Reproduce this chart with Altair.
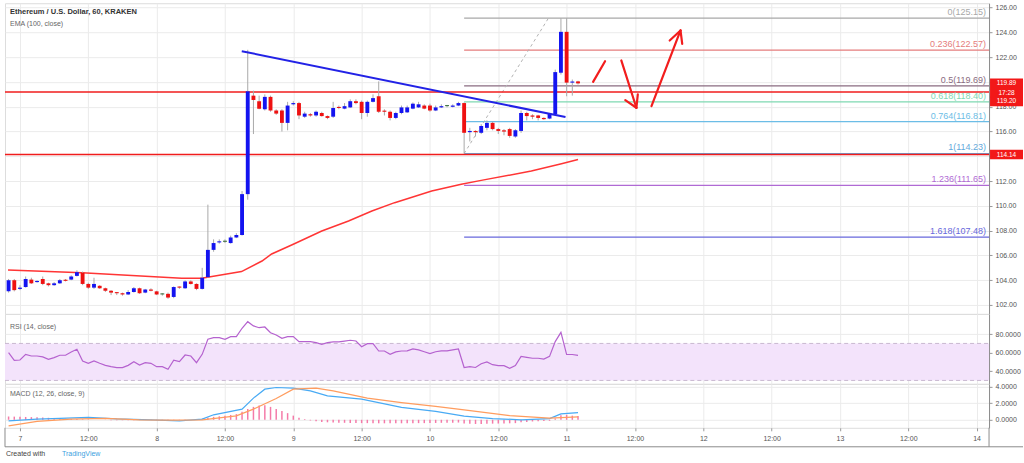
import altair as alt
import pandas as pd

FONT = "Liberation Sans"

# ---------------- data ----------------
FIRST_HOUR = -2  # first hourly candle: day 6, 22:00 (hours relative to day 7 00:00)

opens = [103.1, 104.0, 103.3, 103.45, 104.05, 103.85, 104.1, 103.75, 103.6, 103.75,
         104.0, 104.05, 104.35, 104.6, 103.7, 103.4, 103.55, 103.35, 103.15, 103.0,
         102.95, 102.85, 103.05, 103.35, 103.0, 103.25, 103.1, 102.85, 102.9, 102.65,
         103.45, 103.35, 103.9, 103.7, 103.3, 104.25, 106.45, 107.05, 107.1, 107.0,
         107.45, 107.65, 110.95, 118.9, 118.45, 117.8, 118.8, 117.7, 117.7, 116.7,
         118.2, 118.3, 117.2, 117.4, 117.3, 117.5, 117.25, 117.2, 117.95, 117.85,
         117.95, 118.45, 118.4, 117.5, 118.4, 118.85, 117.65, 117.6, 117.1, 117.5,
         117.55, 117.85, 117.95, 118.1, 118.1, 117.7, 117.95, 118.05, 118.0, 118.1,
         118.3, 115.95, 116.05, 115.9, 116.3, 116.7, 116.2, 116.1, 116.2, 115.6,
         116.05, 117.5, 117.3, 117.3, 117.1, 117.05, 117.4, 120.75, 124.05, 119.95,
         120.05]
closes = [104.0, 103.2, 103.4, 104.1, 103.75, 103.9, 103.7, 103.6, 103.75, 104.0,
          103.95, 104.3, 104.65, 103.7, 103.4, 103.7, 103.35, 103.15, 103.0, 102.95,
          102.85, 103.05, 103.35, 102.95, 103.25, 103.15, 102.85, 102.85, 102.6, 103.45,
          103.4, 103.9, 103.7, 103.3, 104.2, 106.45, 107.0, 107.1, 107.1, 107.45,
          107.65, 110.95, 119.25, 118.55, 117.85, 118.8, 117.7, 117.45, 116.7, 118.1,
          118.3, 117.3, 117.45, 117.3, 117.6, 117.25, 117.1, 117.9, 117.9, 118.05,
          118.45, 118.3, 117.5, 118.4, 118.7, 117.6, 117.6, 117.1, 117.5, 117.95,
          117.95, 118.25, 118.2, 117.85, 117.7, 117.95, 118.05, 118.05, 118.1, 118.3,
          115.9, 116.05, 115.95, 116.45, 116.7, 116.2, 116.05, 116.0, 115.65, 116.1,
          117.5, 117.25, 117.2, 117.1, 117.0, 117.45, 120.8, 124.05, 119.95, 120.0,
          119.89]
highs = [104.1, 104.1, 103.6, 104.3, 104.2, 104.0, 104.3, 103.8, 103.85, 104.1,
         104.1, 104.4, 104.8, 104.7, 103.8, 104.2, 103.6, 103.4, 103.2, 103.05,
         103.0, 103.2, 103.45, 103.4, 103.3, 103.35, 103.15, 102.95, 103.0, 103.5,
         103.5, 104.0, 104.0, 103.75, 105.0, 110.1, 107.3, 107.3, 107.3, 107.6,
         107.8, 111.2, 122.6, 119.3, 118.9, 119.0, 118.9, 117.8, 117.8, 118.4,
         118.45, 118.4, 117.6, 117.5, 117.7, 117.6, 117.3, 118.4, 118.1, 118.3,
         118.6, 118.6, 118.5, 118.5, 119.0, 120.05, 117.8, 117.7, 117.6, 118.1,
         118.1, 118.35, 118.4, 118.2, 118.25, 118.1, 118.2, 118.15, 118.2, 118.4,
         118.35, 116.3, 116.1, 116.6, 116.9, 116.8, 116.3, 116.2, 116.3, 116.2,
         117.7, 117.6, 117.4, 117.35, 117.15, 117.5, 121.0, 125.15, 125.15, 120.2,
         120.1]
lows = [103.0, 103.1, 103.2, 103.4, 103.7, 103.8, 103.6, 103.5, 103.55, 103.7,
        103.9, 104.0, 104.3, 103.6, 103.3, 103.3, 103.3, 103.05, 102.8, 102.8,
        102.75, 102.8, 103.0, 102.9, 102.95, 103.1, 102.8, 102.75, 102.5, 102.55,
        103.3, 103.3, 103.65, 103.2, 103.25, 104.2, 106.3, 106.95, 107.0, 106.95,
        107.4, 107.6, 110.5, 115.8, 117.8, 117.7, 117.6, 117.35, 116.0, 116.1,
        118.1, 117.0, 117.1, 117.2, 117.2, 117.2, 117.0, 117.1, 117.8, 117.8,
        117.9, 118.2, 117.0, 117.2, 118.35, 117.5, 117.3, 116.9, 117.0, 117.4,
        117.5, 117.8, 117.9, 117.8, 117.6, 117.65, 117.9, 117.95, 117.95, 118.05,
        114.25, 115.2, 115.6, 115.8, 116.1, 116.1, 115.8, 115.7, 115.5, 115.5,
        115.9, 116.9, 117.0, 116.9, 116.95, 117.0, 117.3, 120.6, 118.85, 118.9,
        119.8]

ema_hours = [-2.1, 10.9, 28.4, 31.9, 38.9, 42.5, 44.2, 48.0, 53.0, 57.7, 61.8,
             65.8, 72.3, 77.5, 81.0, 89.8, 95.1, 98.0]
ema_values = [104.83, 104.61, 104.16, 104.16, 104.7, 105.55, 106.12, 106.9, 107.97,
              108.78, 109.59, 110.26, 111.2, 111.74, 112.06, 112.81, 113.4, 113.75]

rsi_values = [60, 51.8, 52.1, 58.2, 56.4, 56.4, 55.4, 52.8, 54.6, 57.2,
              57.2, 60.8, 63.7, 51.0, 48.5, 51.0, 48.5, 46.3, 44.9, 43.8,
              43.8, 46.3, 50.3, 46.7, 49.2, 48.5, 44.9, 44.9, 42.0, 51.8,
              50.3, 57.5, 56.4, 49.2, 58.2, 74.5, 76.2, 76.2, 74.5, 77.3,
              77.3, 86.4, 93.5, 88.9, 87.0, 87.8, 81.6, 79.1, 75.5, 77.3,
              77.3, 71.9, 71.9, 71.9, 70.8, 69.0, 70.8, 71.6, 71.6, 72.5,
              73.4, 72.6, 66.5, 69.7, 69.7, 61.8, 61.8, 58.2, 60.8, 61.8,
              62.0, 64.0, 63.0, 61.0, 59.0, 61.0, 62.0, 62.0, 63.0, 64.0,
              44.0, 45.0, 44.0, 48.0, 50.0, 47.0, 46.0, 46.0, 43.0, 46.0,
              56.0, 55.0, 54.0, 54.0, 53.0, 56.0, 72.0, 82.0, 58.0, 58.0,
              57.0]

macd_idx = [0, 5, 9, 14, 19, 25, 30, 34, 36, 41, 43, 45, 47, 50, 53, 56, 62, 69,
            75, 80, 85, 90, 95, 97, 100]
macd_values = [-0.12, 0.08, 0.16, 0.28, 0.1, 0.0, -0.12, 0.08, 0.6, 1.28, 2.6, 3.67,
               3.87, 3.8, 3.47, 2.87, 2.48, 1.48, 1.0, 0.45, 0.15, 0.0, 0.15, 0.7, 0.85]
signal_idx = [0, 5, 11, 17, 23, 29, 34, 40, 43, 47, 50, 54, 57, 63, 69, 75, 80, 88,
              95, 100]
signal_values = [-0.72, -0.2, 0.08, 0.16, 0.0, -0.04, 0.0, 0.48, 1.28, 2.55, 3.67,
                 3.8, 3.47, 2.6, 2.07, 1.6, 1.2, 0.5, 0.2, 0.35]
hist_values = [0.40, 0.38, 0.36, 0.34, 0.32, 0.30, 0.27, 0.24, 0.20, 0.17,
               0.14, 0.11, 0.09, 0.06, 0.04, 0.02, 0.0, -0.02, -0.04, -0.05,
               -0.05, -0.05, -0.04, -0.03, -0.03, -0.03, -0.04, -0.05, -0.06, -0.06,
               -0.04, -0.02, 0.0, 0.02, 0.12, 0.25, 0.35, 0.42, 0.5, 0.58,
               0.68, 0.95, 1.3, 1.55, 1.7, 1.75, 1.55, 1.3, 1.05, 0.8,
               0.5, 0.25, 0.08, -0.08, -0.18, -0.25, -0.3, -0.32, -0.35, -0.36,
               -0.38, -0.38, -0.4, -0.4, -0.4, -0.42, -0.42, -0.42, -0.42, -0.42,
               -0.42, -0.4, -0.4, -0.4, -0.38, -0.38, -0.36, -0.35, -0.34, -0.33,
               -0.45, -0.48, -0.5, -0.5, -0.48, -0.46, -0.45, -0.43, -0.42, -0.4,
               -0.3, -0.25, -0.2, -0.18, -0.15, -0.12, 0.15, 0.55, 0.6, 0.5,
               0.45]

fib_ratios = ["0", "0.236", "0.5", "0.618", "0.764", "1", "1.236", "1.618"]
fib_prices = [125.15, 122.57, 119.69, 118.40, 116.81, 114.23, 111.65, 107.48]
fib_start_hour = 78.0
fib_diag_hours = [78.0, 92.8]
fib_diag_prices = [114.23, 125.15]

hline_prices = [119.20, 114.14]
trend_hours = [38.95, 95.8]
trend_prices = [122.49, 117.17]

arrow_x1 = [100.65, 105.6, 106.3, 108.5, 110.9, 114.1, 116.3]
arrow_y1 = [120.01, 121.74, 118.54, 119.0, 118.05, 123.35, 123.08]
arrow_x2 = [102.75, 108.25, 108.25, 108.25, 116.0, 116.0, 116.0]
arrow_y2 = [121.68, 117.92, 117.92, 117.92, 124.16, 124.16, 124.16]

price_tags = ["119.89", "119.20", "114.14"]
price_tag_values = [119.89, 119.20, 114.14]
countdown = "17:28"

day_ticks = list(range(0, 169, 12))
main_ticks = list(range(102, 127, 2))
hidden_main_labels = [120, 114]  # covered by the price tags in the picture
rsi_ticks = [40, 60, 80]
rsi_band = [70, 30]
macd_ticks = [0, 2, 4]

# ---------------- styles ----------------
fib_colors = ["#a8a8a8", "#e57c7c", "#8a6b80", "#7fd9b2", "#6cbde6", "#62a9dc",
              "#b06ad4", "#6868dc"]
W = 985
H_MAIN, H_RSI, H_MACD = 311, 70, 44
XDOM = [-2.63, 170.18]
GRID = "#ebebeb"
LBL = "#555555"

xscale = alt.Scale(domain=XDOM, nice=False, zero=False)
ys_main = alt.Scale(domain=[101.28, 126.36], nice=False, zero=False)
ys_rsi = alt.Scale(domain=[26.3, 101.9], nice=False, zero=False)
ys_macd = alt.Scale(domain=[-0.96, 4.31], nice=False, zero=False)

ax_x_hidden = alt.Axis(values=day_ticks, grid=True, gridColor=GRID, labels=False,
                       ticks=False, domain=False, title=None)
ax_x_bottom = alt.Axis(values=day_ticks, grid=True, gridColor=GRID, labels=True,
                       ticks=True, tickSize=3, tickColor="#999", domain=False,
                       title=None, labelFontSize=7, labelColor=LBL, labelPadding=4,
                       labelFlush=False, labelOverlap=False,
                       labelExpr="datum.value % 24 == 0 ? '' + (7 + datum.value / 24) : '12:00'")


def yaxis(vals, fmt, expr=None):
    kw = dict(orient="right", values=vals, format=fmt, grid=True, gridColor=GRID,
              tickSize=3, tickColor="#999", domainColor="#8c8c8c",
              labelFontSize=7, labelColor=LBL, labelPadding=3,
              labelOverlap=False, labelFlush=False, title=None)
    if expr:
        kw["labelExpr"] = expr
    return alt.Axis(**kw)


hide_expr = " || ".join(f"datum.value == {v}" for v in hidden_main_labels)
ax_main = yaxis(main_ticks, ".2f", f"({hide_expr}) ? '' : datum.label")
ax_rsi = yaxis(rsi_ticks, ".4f")
ax_macd = yaxis(macd_ticks, ".4f")


def X(field, ax):
    return alt.X(f"{field}:Q", scale=xscale, axis=ax)


def Y(field, sc, ax):
    return alt.Y(f"{field}:Q", scale=sc, axis=ax)


# ---------------- tables ----------------
n = min(len(opens), len(closes), len(highs), len(lows))
rows = []
for i in range(n):
    o, c = opens[i], closes[i]
    d = "up" if c > o else ("down" if c < o else "flat")
    top, bot = max(o, c), min(o, c)
    if top - bot < 0.09:
        top = bot + 0.09
    rows.append(dict(h=FIRST_HOUR + i, o=o, c=c, hi=highs[i], lo=lows[i], d=d,
                     top=top, bot=bot, hl=FIRST_HOUR + i - 0.34, hr=FIRST_HOUR + i + 0.34))
candles = pd.DataFrame(rows)

ema_df = pd.DataFrame({"h": ema_hours, "p": ema_values})
fib_df = pd.DataFrame({"r": fib_ratios, "p": fib_prices,
                       "h": [fib_start_hour] * len(fib_ratios)})
fib_df["label"] = [f"{r}({p:.2f})" for r, p in zip(fib_ratios, fib_prices)]
diag_df = pd.DataFrame({"h": fib_diag_hours, "p": fib_diag_prices})
hl_df = pd.DataFrame({"p": hline_prices})
trend_df = pd.DataFrame({"h": trend_hours, "p": trend_prices})
arrow_df = pd.DataFrame({"x1": arrow_x1, "y1": arrow_y1, "x2": arrow_x2, "y2": arrow_y2})

rsi_df = pd.DataFrame({"h": [FIRST_HOUR + i for i in range(len(rsi_values))], "v": rsi_values})
band_df = pd.DataFrame({"top": [rsi_band[0]], "bot": [rsi_band[1]]})
band_lines = pd.DataFrame({"v": rsi_band})
macd_df = pd.DataFrame({"h": [FIRST_HOUR + i for i in macd_idx], "v": macd_values})
sig_df = pd.DataFrame({"h": [FIRST_HOUR + i for i in signal_idx], "v": signal_values})
hist_df = pd.DataFrame({"h": [FIRST_HOUR + i for i in range(len(hist_values))], "v": hist_values})
hist_df["hl"] = hist_df["h"] - 0.13
hist_df["hr"] = hist_df["h"] + 0.13
hist_df["z"] = 0.0


def txt(s):
    return pd.DataFrame({"t": [s]})


fib_color = alt.Color("r:N", scale=alt.Scale(domain=fib_ratios, range=fib_colors), legend=None)

# ---------------- main panel ----------------
fib_lines = alt.Chart(fib_df).mark_rule(strokeWidth=1.2).encode(
    x=X("h", ax_x_hidden), x2=alt.value(W), y=Y("p", ys_main, ax_main), color=fib_color)
fib_text = alt.Chart(fib_df).mark_text(align="right", baseline="bottom", dy=-1,
                                       fontSize=9).encode(
    x=alt.value(W - 3), y=Y("p", ys_main, ax_main), text="label:N", color=fib_color)
diag = alt.Chart(diag_df).mark_line(color="#b3b3b3", strokeDash=[3, 3], strokeWidth=1).encode(
    x=X("h", ax_x_hidden), y=Y("p", ys_main, ax_main))
hlines = alt.Chart(hl_df).mark_rule(color="#f01c1c", strokeWidth=1.5).encode(
    x=alt.value(0), x2=alt.value(W), y=Y("p", ys_main, ax_main))
ema = alt.Chart(ema_df).mark_line(color="#ff3535", strokeWidth=1.5).encode(
    x=X("h", ax_x_hidden), y=Y("p", ys_main, ax_main))
wicks = alt.Chart(candles).mark_rule(color="#a9a9a9", strokeWidth=1).encode(
    x=X("h", ax_x_hidden), y=Y("lo", ys_main, ax_main), y2="hi:Q")
body_layers = []
for key, col in [("up", "#1414f0"), ("down", "#ee1111"), ("flat", "#3d7040")]:
    body_layers.append(
        alt.Chart(candles).transform_filter(alt.datum.d == key).mark_rect(color=col).encode(
            x=X("hl", ax_x_hidden), x2="hr:Q", y=Y("bot", ys_main, ax_main), y2="top:Q"))
trend = alt.Chart(trend_df).mark_line(color="#2222e6", strokeWidth=2).encode(
    x=X("h", ax_x_hidden), y=Y("p", ys_main, ax_main))
arrows = alt.Chart(arrow_df).mark_rule(color="#f21d1d", strokeWidth=2.2, strokeCap="round").encode(
    x=X("x1", ax_x_hidden), x2="x2:Q", y=Y("y1", ys_main, ax_main), y2="y2:Q")
title1 = alt.Chart(txt("Ethereum / U.S. Dollar, 60, KRAKEN")).mark_text(
    align="left", baseline="middle", fontSize=7.5, fontWeight="bold", color="#333333").encode(
    x=alt.value(5), y=alt.value(9), text="t:N")
title2 = alt.Chart(txt("EMA (100, close)")).mark_text(
    align="left", baseline="middle", fontSize=7, color="#666666").encode(
    x=alt.value(5), y=alt.value(21), text="t:N")

tag_df = pd.DataFrame({"t": price_tags, "p": price_tag_values})
box_tall = "M0,-1H6.6V2.9H0Z"
box_small = "M0,-0.95H6.6V0.95H0Z"
tag_a = alt.Chart(tag_df.iloc[[0]]).mark_point(shape=box_tall, filled=True, size=100,
                                                 color="#f21818", opacity=1, strokeWidth=0).encode(
    x=alt.value(W + 1), y=Y("p", ys_main, ax_main))
tag_b = alt.Chart(tag_df.iloc[[1]]).mark_point(shape=box_small, filled=True, size=100,
                                                 color="#f21818", opacity=1, strokeWidth=0,
                                                 yOffset=9.5).encode(
    x=alt.value(W + 1), y=Y("p", ys_main, ax_main))
tag_c = alt.Chart(tag_df.iloc[[2]]).mark_point(shape=box_small, filled=True, size=100,
                                                 color="#f21818", opacity=1, strokeWidth=0).encode(
    x=alt.value(W + 1), y=Y("p", ys_main, ax_main))
tag_txt_a = alt.Chart(tag_df.iloc[[0, 2]]).mark_text(
    align="center", baseline="middle", fontSize=6.5, color="white").encode(
    x=alt.value(W + 17.5), y=Y("p", ys_main, ax_main), text="t:N")
tag_txt_b = alt.Chart(tag_df.iloc[[1]]).mark_text(
    align="center", baseline="middle", fontSize=6.5, color="white", dy=9.5).encode(
    x=alt.value(W + 17.5), y=Y("p", ys_main, ax_main), text="t:N")
cd_txt = alt.Chart(pd.DataFrame({"t": [countdown], "p": [price_tag_values[0]]})).mark_text(
    align="center", baseline="middle", fontSize=6.5, color="white", dy=9.5).encode(
    x=alt.value(W + 17.5), y=Y("p", ys_main, ax_main), text="t:N")

main = alt.layer(fib_lines, diag, hlines, ema, wicks, *body_layers, trend, arrows, fib_text,
                 title1, title2, tag_a, tag_b, tag_c, tag_txt_a, tag_txt_b, cd_txt
                 ).properties(width=W, height=H_MAIN)

# ---------------- RSI panel ----------------
band = alt.Chart(band_df).mark_rect(color="#f3e3fb", opacity=1).encode(
    x=alt.value(0), x2=alt.value(W), y=Y("top", ys_rsi, ax_rsi), y2="bot:Q")
band_l = alt.Chart(band_lines).mark_rule(color="#c8b8d0", strokeDash=[4, 3], strokeWidth=1).encode(
    x=alt.value(0), x2=alt.value(W), y=Y("v", ys_rsi, ax_rsi))
rsi_line = alt.Chart(rsi_df).mark_line(color="#b562cf", strokeWidth=1.2).encode(
    x=X("h", ax_x_hidden), y=Y("v", ys_rsi, ax_rsi))
rsi_title = alt.Chart(txt("RSI (14, close)")).mark_text(
    align="left", baseline="middle", fontSize=7, color="#666666").encode(
    x=alt.value(5), y=alt.value(13), text="t:N")
rsi = alt.layer(band, band_l, rsi_line, rsi_title).properties(width=W, height=H_RSI)

# ---------------- MACD panel ----------------
hist = alt.Chart(hist_df).mark_rect(color="#f47aa8").encode(
    x=X("hl", ax_x_bottom), x2="hr:Q", y=Y("v", ys_macd, ax_macd), y2="z:Q")
macd_line = alt.Chart(macd_df).mark_line(color="#48aaf4", strokeWidth=1.2).encode(
    x=X("h", ax_x_bottom), y=Y("v", ys_macd, ax_macd))
sig_line = alt.Chart(sig_df).mark_line(color="#ff9c5e", strokeWidth=1.2).encode(
    x=X("h", ax_x_bottom), y=Y("v", ys_macd, ax_macd))
macd_title = alt.Chart(txt("MACD (12, 26, close, 9)")).mark_text(
    align="left", baseline="middle", fontSize=7, color="#666666").encode(
    x=alt.value(5), y=alt.value(10), text="t:N")
frame_h = alt.Chart(txt("")).mark_rule(color="#8c8c8c").encode(
    x=alt.value(0), x2=alt.value(1019), y=alt.value(H_MACD + 19))
frame_v1 = alt.Chart(txt("")).mark_rule(color="#8c8c8c").encode(
    x=alt.value(W), y=alt.value(H_MACD), y2=alt.value(H_MACD + 19))
frame_v0 = alt.Chart(txt("")).mark_rule(color="#8c8c8c").encode(
    x=alt.value(0), y=alt.value(H_MACD), y2=alt.value(H_MACD + 19))
foot1 = alt.Chart(txt("Created with")).mark_text(
    align="left", baseline="middle", fontSize=7, color="#444444").encode(
    x=alt.value(1), y=alt.value(H_MACD + 26), text="t:N")
foot2 = alt.Chart(txt("TradingView")).mark_text(
    align="left", baseline="middle", fontSize=7, color="#3d9fe0").encode(
    x=alt.value(57), y=alt.value(H_MACD + 26), text="t:N")
macd = alt.layer(hist, macd_line, sig_line, macd_title, frame_h, frame_v0, frame_v1,
                 foot1, foot2).properties(width=W, height=H_MACD)

chart = alt.vconcat(main, rsi, macd, spacing=0, bounds="flush").properties(
    padding={"left": 3, "top": 2, "right": 0, "bottom": 0}
).configure_view(stroke="#8c8c8c", strokeWidth=1).configure_axis(
    labelFont=FONT).configure_text(font=FONT).configure(background="white")

chart.save("out.html", embed_options={"renderer": "svg", "actions": False})
